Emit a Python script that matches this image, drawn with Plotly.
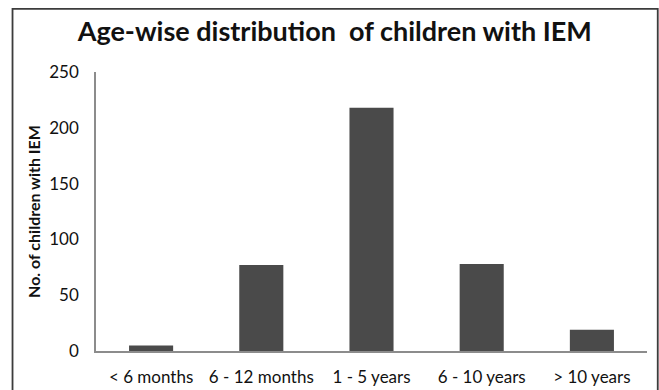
import plotly.graph_objects as go

# Age groups and number of children with IEM in each
age_groups = ["< 6 months", "6 - 12 months", "1 - 5 years", "6 - 10 years", "> 10 years"]
children_counts = [5, 77, 218, 78, 19]
y_ticks = [0, 50, 100, 150, 200, 250]

FONT = "Lato, Carlito, Calibri, sans-serif"

fig = go.Figure(
    go.Bar(
        x=age_groups,
        y=children_counts,
        marker=dict(color="#4a4a4a", line=dict(width=0)),
        width=0.4,
    )
)

fig.update_layout(
    width=659,
    height=390,
    margin=dict(l=96, r=12, t=72, b=39),
    paper_bgcolor="white",
    plot_bgcolor="white",
    showlegend=False,
    font=dict(family=FONT, color="#111"),
    title=dict(
        text="<b>Age-wise distribution\u00a0 of children with IEM</b>",
        x=0.508,
        xanchor="center",
        y=0.918,
        yanchor="middle",
        font=dict(size=27, family=FONT, color="#111"),
    ),
    xaxis=dict(
        showline=True,
        linecolor="#8c8c8c",
        linewidth=1.5,
        ticks="",
        showgrid=False,
        automargin=False,
        ticklabelstandoff=10,
        tickfont=dict(size=17, family=FONT, color="#111"),
    ),
    yaxis=dict(
        range=[0, 250],
        tickvals=y_ticks,
        showline=True,
        linecolor="#8c8c8c",
        linewidth=1.5,
        ticks="",
        showgrid=False,
        zeroline=False,
        automargin=False,
        ticklabelstandoff=12,
        tickfont=dict(size=17, family=FONT, color="#111"),
        title=dict(
            text="<b>No. of children with IEM</b>",
            font=dict(size=16, family=FONT, color="#111"),
            standoff=5,
        ),
    ),
    shapes=[
        dict(
            type="path",
            xref="paper",
            yref="paper",
            path="M -0.1515 -0.2 L -0.1515 1.226 L 1.0195 1.226 L 1.0195 -0.2",
            line=dict(color="#3c3c3c", width=1.8),
        )
    ],
)

fig.write_html("out.html")
